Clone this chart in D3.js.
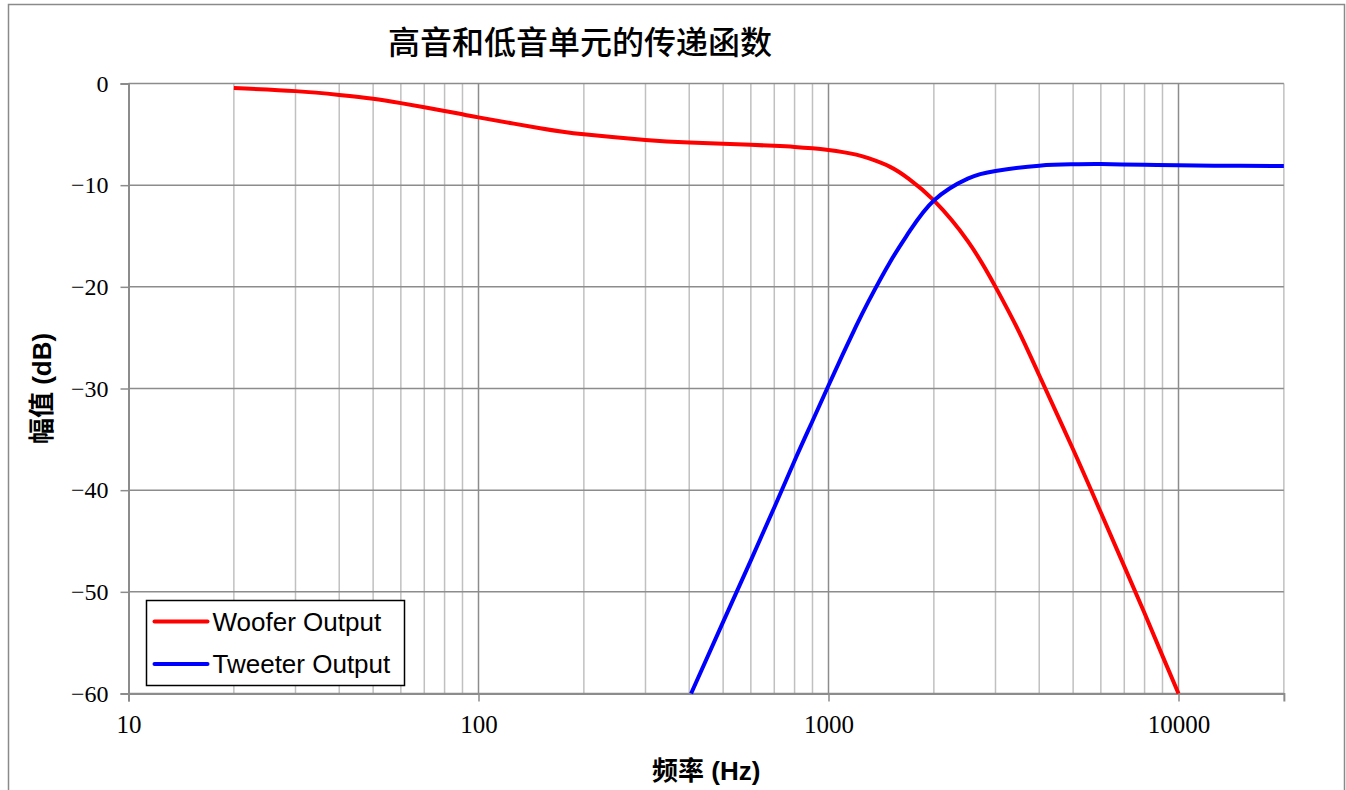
<!DOCTYPE html>
<html>
<head>
<meta charset="utf-8">
<script src="https://cdn.jsdelivr.net/npm/d3@7"></script>
<style>
  html, body { margin: 0; padding: 0; background: #fff; }
  svg { display: block; }
</style>
</head>
<body>
<svg id="chart" width="1346" height="790"></svg>
<script>
// Crossover frequency response: woofer (low-pass) and tweeter (high-pass)
const chartTitle = "高音和低音单元的传递函数";
const xTitle = "频率 (Hz)";
const yTitle = "幅值 (dB)";

const wooferFreq = [20, 30, 40, 50, 60, 70, 80, 90, 100, 150, 200, 300, 400, 500, 600, 700, 800, 900,
  1000, 1100, 1200, 1300, 1500, 1700, 2000, 2500, 3000, 3500, 4000, 5000, 6000, 7000, 8000, 9000, 10000];
const wooferDb = [-0.45, -0.75, -1.12, -1.5, -1.93, -2.33, -2.7, -3.03, -3.33, -4.4, -5.0, -5.55, -5.8, -5.93, -6.03, -6.13, -6.24, -6.38,
  -6.55, -6.75, -7.0, -7.35, -8.2, -9.4, -11.5, -15.5, -20.0, -24.4, -28.7, -36.0, -42.2, -47.5, -52.1, -56.3, -60.0];

const tweeterFreq = [405, 500, 600, 700, 800, 900, 1000, 1100, 1200, 1300, 1500, 1700, 2000, 2500, 3000,
  4000, 5000, 6000, 8000, 10000, 15000, 20000];
const tweeterDb = [-60.0, -52.95, -46.9, -41.7, -37.1, -33.2, -29.7, -26.6, -23.85, -21.45, -17.55, -14.6, -11.5, -9.35, -8.6,
  -8.08, -7.95, -7.93, -8.0, -8.05, -8.1, -8.12];

const seriesNames = ["Woofer Output", "Tweeter Output"];
const seriesColors = ["#ff0000", "#0000ff"];

const xDecadeTicks = [10, 100, 1000, 10000];
const xTickLabels = ["10", "100", "1000", "10000"];
const yTicks = [0, -10, -20, -30, -40, -50, -60];

const svg = d3.select("#chart");

// outer chart border
svg.append("rect")
  .attr("x", 8.5).attr("y", 4.5)
  .attr("width", 1336).attr("height", 820)
  .attr("fill", "#fff").attr("stroke", "#8a8a8a").attr("stroke-width", 1.5);

const plot = { left: 128.5, top: 83.5, bottom: 693.5 };

const x = d3.scaleLog()
  .domain([10, 20000])
  .range([plot.left, plot.left + 350 * Math.log10(2000)]);
const y = d3.scaleLinear()
  .domain([-60, 0])
  .range([plot.bottom, plot.top]);

const grid = svg.append("g");

// minor vertical gridlines (2..9 in each decade, plus 20000)
const minorFreqs = [];
[10, 100, 1000].forEach(d => { for (let k = 2; k <= 9; k++) minorFreqs.push(d * k); });
minorFreqs.push(20000);
grid.selectAll("line.minor").data(minorFreqs).join("line")
  .attr("x1", d => x(d)).attr("x2", d => x(d))
  .attr("y1", y(0)).attr("y2", y(-60))
  .attr("stroke", "#c0c0c0").attr("stroke-width", 1.5);

// decade vertical gridlines
grid.selectAll("line.major").data(xDecadeTicks.slice(1)).join("line")
  .attr("x1", d => x(d)).attr("x2", d => x(d))
  .attr("y1", y(0)).attr("y2", y(-60))
  .attr("stroke", "#8c8c8c").attr("stroke-width", 1.5);

// horizontal gridlines
grid.selectAll("line.h").data(yTicks).join("line")
  .attr("x1", x(10)).attr("x2", x(20000))
  .attr("y1", d => y(d)).attr("y2", d => y(d))
  .attr("stroke", "#8c8c8c").attr("stroke-width", 1.5);

// Y axis
const yAxis = d3.axisLeft(y)
  .tickValues(yTicks)
  .tickSize(8)
  .tickPadding(12)
  .tickFormat(d => d === 0 ? "0" : "\u2212" + Math.abs(d));
const gy = svg.append("g")
  .attr("transform", `translate(${plot.left},0)`)
  .call(yAxis);
gy.select(".domain").attr("stroke", "#8c8c8c").attr("stroke-width", 2);
gy.selectAll(".tick line").attr("stroke", "#8c8c8c").attr("stroke-width", 1.5);
gy.selectAll(".tick text")
  .attr("font-family", "'Liberation Serif', 'Times New Roman', serif")
  .attr("font-size", 24).attr("fill", "#000");

// X axis
const xAxis = d3.axisBottom(x)
  .tickValues(xDecadeTicks)
  .tickSize(8)
  .tickPadding(14)
  .tickFormat((d, i) => xTickLabels[i]);
const gx = svg.append("g")
  .attr("transform", `translate(0,${plot.bottom})`)
  .call(xAxis);
gx.select(".domain").attr("stroke", "#8c8c8c").attr("stroke-width", 2);
gx.selectAll(".tick line").attr("stroke", "#8c8c8c").attr("stroke-width", 1.5);
gx.selectAll(".tick text")
  .attr("font-family", "'Liberation Serif', 'Times New Roman', serif")
  .attr("font-size", 25).attr("fill", "#000");

// response curves
const line = d3.line()
  .x(d => x(d[0]))
  .y(d => y(d[1]))
  .curve(d3.curveNatural);

const series = [
  d3.zip(wooferFreq, wooferDb),
  d3.zip(tweeterFreq, tweeterDb)
];

svg.append("defs").append("clipPath").attr("id", "plot-clip")
  .append("rect")
  .attr("x", x(10)).attr("y", y(0) - 5)
  .attr("width", x(20000) - x(10) + 4)
  .attr("height", y(-60) - y(0) + 7);

svg.append("g").attr("clip-path", "url(#plot-clip)")
  .selectAll("path").data(series).join("path")
  .attr("d", line)
  .attr("fill", "none")
  .attr("stroke", (d, i) => seriesColors[i])
  .attr("stroke-width", 4)
  .attr("stroke-linejoin", "round");

// title
svg.append("text")
  .attr("x", 580).attr("y", 54)
  .attr("text-anchor", "middle")
  .attr("font-family", "'Noto Sans CJK SC', sans-serif")
  .attr("font-weight", 500)
  .attr("font-size", 32)
  .attr("fill", "#000")
  .text(chartTitle);

// axis titles
svg.append("text")
  .attr("x", (x(10) + x(20000)) / 2).attr("y", 780)
  .attr("text-anchor", "middle")
  .attr("font-family", "'Liberation Sans', 'Noto Sans CJK SC', sans-serif")
  .attr("font-weight", "bold")
  .attr("font-size", 26)
  .attr("fill", "#000")
  .text(xTitle);

svg.append("text")
  .attr("transform", `translate(51,${(y(0) + y(-60)) / 2}) rotate(-90)`)
  .attr("text-anchor", "middle")
  .attr("font-family", "'Liberation Sans', 'Noto Sans CJK SC', sans-serif")
  .attr("font-weight", "bold")
  .attr("font-size", 26)
  .attr("fill", "#000")
  .text(yTitle);

// legend
const legend = svg.append("g").attr("transform", "translate(146.5,600.5)");
legend.append("rect")
  .attr("width", 258).attr("height", 85)
  .attr("fill", "#fff").attr("stroke", "#000").attr("stroke-width", 1.5);
const items = legend.selectAll("g.item").data(seriesNames).join("g")
  .attr("transform", (d, i) => `translate(0,${21 + i * 42.5})`);
items.append("line")
  .attr("x1", 8).attr("x2", 61)
  .attr("stroke", (d, i) => seriesColors[i])
  .attr("stroke-width", 4)
  .attr("stroke-linecap", "round");
items.append("text")
  .attr("x", 66).attr("y", 9)
  .attr("font-family", "'Liberation Sans', Arial, sans-serif")
  .attr("font-size", 26)
  .attr("fill", "#000")
  .text(d => d);
</script>
</body>
</html>
